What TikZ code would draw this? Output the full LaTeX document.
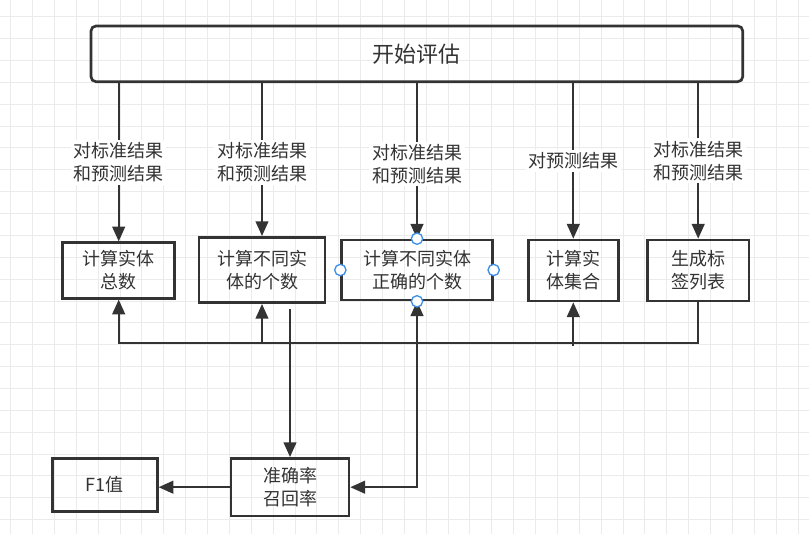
\documentclass[tikz,border=0pt]{standalone}
\usepackage{fontspec}
\setmainfont{Noto Sans CJK SC}
\usetikzlibrary{arrows.meta,positioning}
\definecolor{ink}{HTML}{333333}
\definecolor{gridgray}{HTML}{EBEBEB}
\definecolor{handle}{HTML}{3D8FE8}
\begin{document}
\begin{tikzpicture}[x=0.75pt,y=-0.75pt,
    proc/.style={draw=ink,line width=2pt,text=ink,align=center,inner sep=0pt,
                 font=\fontsize{13.5}{17.25}\selectfont},
    flow/.style={draw=ink,line width=1.5pt,-{Triangle[length=11pt,width=9.5pt]}},
    lbl/.style={fill=white,text=ink,align=center,inner sep=2pt,
                font=\fontsize{13.5}{17.25}\selectfont},
    grab/.style={circle,draw=handle,fill=white,line width=1pt,minimum size=8.5pt,inner sep=0pt}
                   ]

    \useasboundingbox (0,0) rectangle (809,534);
    \fill[white] (0,0) rectangle (809,534);
    \foreach \i in {0,...,36}
        \draw[gridgray,line width=0.75pt] ({10.7+21.87*\i},0) -- ({10.7+21.87*\i},534);
    \foreach \j in {0,...,23}
        \draw[gridgray,line width=0.75pt] (0,{16.7+21.87*\j}) -- (809,{16.7+21.87*\j});

    \node[proc,rounded corners=3.75pt,minimum width=488.8pt,minimum height=41.8pt,
          font=\fontsize{16.5}{20}\selectfont](start) at (416.85,53.85) {开始评估};
    \node[proc,minimum width=84pt,minimum height=41.7pt](total) at (118.7,270.5) {计算实体\\总数};
    \node[proc,minimum width=94.5pt,minimum height=49pt](diff) at (262,270) {计算不同实\\体的个数};
    \node[proc,minimum width=113pt,minimum height=45pt](correct) at (417,270) {计算不同实体\\正确的个数};
    \node[proc,minimum width=67.5pt,minimum height=45.75pt](set) at (573.3,270.5) {计算实\\体集合};
    \node[proc,minimum width=76.3pt,minimum height=45.75pt](tags) at (698.2,270.5) {生成标\\签列表};
    \node[proc,minimum width=88.5pt,minimum height=43.3pt](acc) at (290,487.2) {准确率\\召回率};
    \node[proc,minimum width=78.75pt,minimum height=40pt](f1) at (104.8,485) {F1值};

    \draw[flow] (start.south -| total.north) -- node[lbl](l1) {对标准结果\\和预测结果} (total.north);
    \draw[flow] (start.south -| diff.north) -- node[lbl,pos=0.52](l2) {对标准结果\\和预测结果} (diff.north);
    \draw[flow] (start.south -| correct.north) -- node[lbl,pos=0.52](l3) {对标准结果\\和预测结果} (correct.north);
    \draw[flow] (start.south -| set.north) -- node[lbl](l4) {对预测结果} (set.north);
    \draw[flow] (start.south -| tags.north) -- node[lbl](l5) {对标准结果\\和预测结果} (tags.north);

    \coordinate (trunk) at (0,343);
    \coordinate (diffout) at (acc.north |- 0,309);
    \draw[flow] (tags.south) |- (trunk -| total.south) -- (total.south);
    \draw[flow] (trunk -| diff.south) -- (diff.south);
    \draw[flow] (set.south |- 0,346) -- (set.south);
    \draw[flow] (correct.south) |- (acc.east);
    \draw[flow] (trunk -| correct.south) -- (correct.south);
    \draw[flow] (diffout) -- (acc.north);
    \draw[flow] (acc.west) -- (acc.west -| f1.east);

    \foreach \a in {north,south,west,east}
        \node[grab](grab-\a) at (correct.\a) {};

\end{tikzpicture}
\end{document}
